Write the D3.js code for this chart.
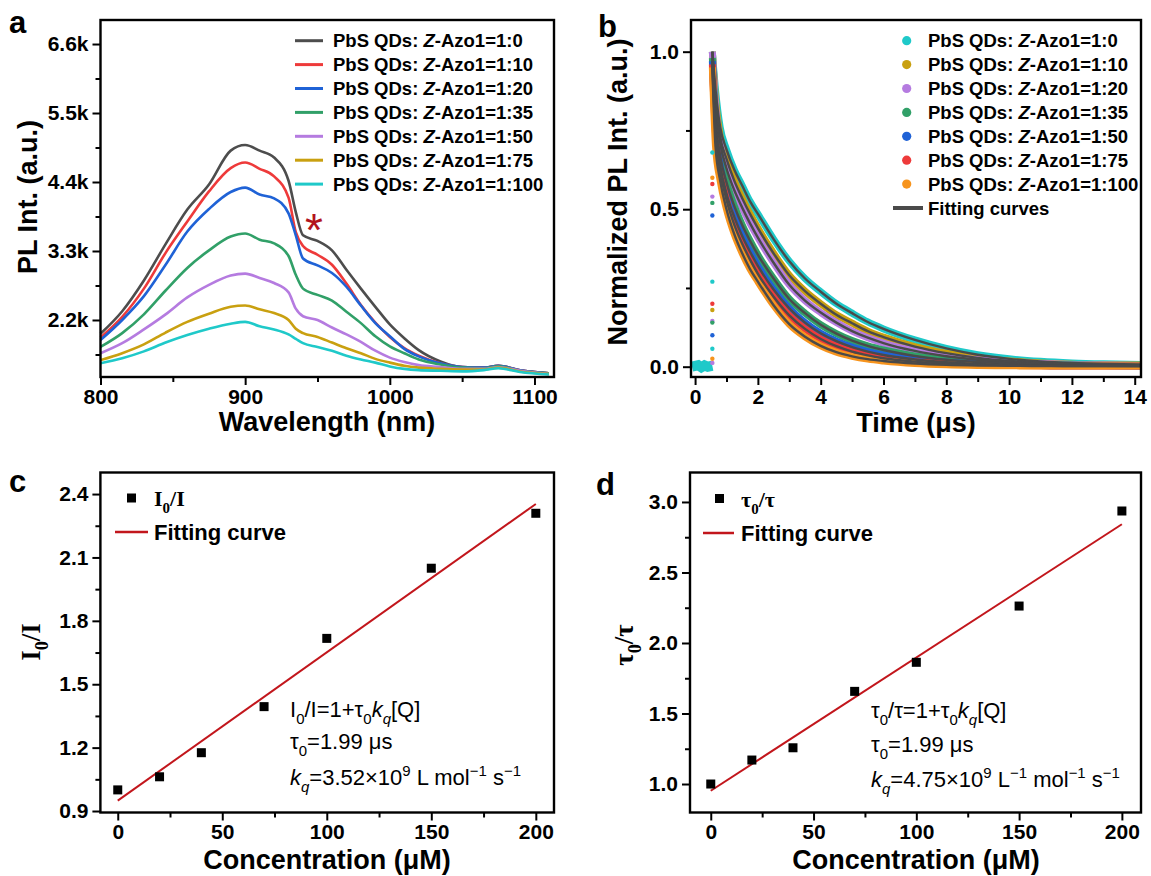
<!DOCTYPE html>
<html>
<head>
<meta charset="utf-8">
<script src="https://cdn.jsdelivr.net/npm/d3@7"></script>
<style>
  body { margin: 0; background: #fff; }
  svg { display: block; font-family: "Liberation Sans", Arial, Helvetica, sans-serif; }
  .tick text { font-family: "Liberation Sans", Arial, sans-serif; font-size: 21px; font-weight: bold; fill: #000; }
  .tick line { stroke: #000; stroke-width: 2; }
  .title { font-size: 27px; font-weight: bold; }
  .leg { font-size: 18.5px; font-weight: bold; }
  .leg2 { font-size: 22px; font-weight: bold; }
  .note { font-size: 22px; }
  .serif { font-family: "Liberation Serif", "Times New Roman", serif; font-weight: bold; }
  .plabel { font-size: 31px; font-weight: bold; }
</style>
</head>
<body>
<div id="chart"></div>
<script>
// ---- panel a: PL spectra (values in k counts) ----
var plLabels = ["1:0", "1:10", "1:20", "1:35", "1:50", "1:75", "1:100"];
var plColors = ["#4d4d4d", "#ee3a3a", "#1f62d6", "#31a068", "#b57be0", "#c9a010", "#1fc9c9"];
var plWave = [800, 815, 830, 845, 860, 875, 890, 900, 910, 920, 930, 935, 940, 950, 960, 970, 980, 990, 1000, 1010, 1020, 1035, 1050, 1065, 1075, 1090, 1110];
var pl_0   = [1.98, 2.34, 2.83, 3.41, 3.96, 4.36, 4.90, 4.99, 4.90, 4.79, 4.42, 3.92, 3.55, 3.46, 3.31, 3.00, 2.70, 2.41, 2.13, 1.91, 1.72, 1.54, 1.45, 1.44, 1.47, 1.40, 1.35];
var pl_10  = [1.92, 2.25, 2.70, 3.27, 3.77, 4.25, 4.62, 4.71, 4.61, 4.49, 4.15, 3.60, 3.38, 3.24, 3.08, 2.78, 2.44, 2.16, 1.93, 1.75, 1.63, 1.51, 1.45, 1.44, 1.47, 1.40, 1.35];
var pl_20  = [1.88, 2.20, 2.58, 3.08, 3.61, 3.97, 4.24, 4.31, 4.20, 4.14, 3.90, 3.55, 3.18, 3.07, 2.95, 2.73, 2.43, 2.15, 1.94, 1.74, 1.62, 1.51, 1.45, 1.44, 1.47, 1.40, 1.35];
var pl_35  = [1.77, 1.99, 2.29, 2.67, 3.03, 3.31, 3.53, 3.58, 3.48, 3.42, 3.22, 2.92, 2.70, 2.60, 2.51, 2.33, 2.15, 1.94, 1.78, 1.67, 1.57, 1.49, 1.44, 1.43, 1.46, 1.39, 1.35];
var pl_50  = [1.67, 1.83, 2.05, 2.29, 2.56, 2.76, 2.91, 2.94, 2.87, 2.79, 2.64, 2.38, 2.26, 2.20, 2.08, 1.97, 1.85, 1.71, 1.60, 1.53, 1.48, 1.45, 1.42, 1.42, 1.45, 1.39, 1.34];
var pl_75  = [1.56, 1.67, 1.81, 2.00, 2.17, 2.30, 2.41, 2.43, 2.37, 2.31, 2.20, 2.06, 1.99, 1.93, 1.84, 1.75, 1.67, 1.58, 1.52, 1.47, 1.44, 1.42, 1.41, 1.41, 1.44, 1.38, 1.34];
var pl_100 = [1.51, 1.59, 1.70, 1.84, 1.96, 2.06, 2.14, 2.17, 2.10, 2.05, 1.97, 1.90, 1.83, 1.77, 1.71, 1.63, 1.57, 1.52, 1.46, 1.42, 1.40, 1.39, 1.38, 1.40, 1.43, 1.37, 1.33];
var plSeries = [pl_0, pl_10, pl_20, pl_35, pl_50, pl_75, pl_100];

// ---- panel b: normalized decays ----
var decayLabels = ["1:0", "1:10", "1:20", "1:35", "1:50", "1:75", "1:100"];
var decayColors = ["#1fc9c9", "#c9a010", "#b57be0", "#31a068", "#1f62d6", "#ee3a3a", "#f7941d"];
var decayTime = [0.55, 0.65, 0.8, 1.0, 1.25, 1.5, 1.75, 2.0, 2.5, 3.0, 3.5, 4.0, 4.5, 5.0, 5.5, 6.0, 7.0, 8.0, 9.0, 10, 11, 12, 13, 14.2];
var decay_0   = [1.0, 0.88, 0.76, 0.69, 0.625, 0.575, 0.525, 0.485, 0.405, 0.335, 0.28, 0.238, 0.2, 0.17, 0.142, 0.12, 0.085, 0.058, 0.038, 0.025, 0.017, 0.012, 0.009, 0.007];
var decay_10  = [1.0, 0.85, 0.73, 0.66, 0.59, 0.535, 0.485, 0.44, 0.36, 0.29, 0.24, 0.2, 0.165, 0.138, 0.113, 0.094, 0.064, 0.043, 0.028, 0.018, 0.012, 0.008, 0.006, 0.005];
var decay_20  = [1.0, 0.83, 0.71, 0.63, 0.56, 0.505, 0.455, 0.41, 0.33, 0.26, 0.21, 0.172, 0.14, 0.113, 0.092, 0.075, 0.05, 0.033, 0.022, 0.014, 0.01, 0.007, 0.005, 0.004];
var decay_35  = [0.98, 0.79, 0.67, 0.585, 0.51, 0.45, 0.4, 0.355, 0.28, 0.215, 0.17, 0.133, 0.105, 0.083, 0.066, 0.053, 0.034, 0.022, 0.015, 0.01, 0.007, 0.005, 0.004, 0.003];
var decay_50  = [0.97, 0.76, 0.64, 0.55, 0.475, 0.415, 0.365, 0.32, 0.245, 0.185, 0.14, 0.106, 0.081, 0.062, 0.048, 0.037, 0.023, 0.014, 0.009, 0.006, 0.004, 0.003, 0.003, 0.002];
var decay_75  = [0.96, 0.74, 0.62, 0.53, 0.45, 0.39, 0.34, 0.295, 0.222, 0.163, 0.12, 0.088, 0.065, 0.048, 0.036, 0.027, 0.016, 0.01, 0.006, 0.004, 0.003, 0.002, 0.002, 0.002];
var decay_100 = [0.95, 0.7, 0.59, 0.5, 0.42, 0.36, 0.31, 0.27, 0.195, 0.135, 0.095, 0.066, 0.046, 0.033, 0.024, 0.018, 0.01, 0.006, 0.004, 0.003, 0.002, 0.002, 0.002, 0.002];
var decaySeries = [decay_0, decay_10, decay_20, decay_35, decay_50, decay_75, decay_100];
// baseline before the pulse and the sparse points on the rising edge
var baseTime = [-0.1, 0.1, 0.2, 0.3, 0.4, 0.55];
var baseValue = [0.0, 0.005, -0.002, 0.004, 0.0, 0.003];
var riseTime = 0.55;
var riseSeries = [0, 5, 1, 2, 3, 4, 0, 6, 2, 6, 5, 2, 3, 4, 0];
var riseValue = [0.27, 0.2, 0.18, 0.145, 0.14, 0.1, 0.057, 0.025, 0.012, 0.6, 0.58, 0.54, 0.52, 0.48, 0.68];

// ---- panels c, d: Stern-Volmer ----
var conc = [0, 20, 40, 70, 100, 150, 200];
var ratioI = [1.0, 1.062, 1.176, 1.394, 1.717, 2.049, 2.309];
var ratioTau = [1.0, 1.17, 1.257, 1.657, 1.863, 2.262, 2.936];
var fitConc = [0, 200];
var fitI = [0.949, 2.353];
var fitTau = [0.952, 2.842];

var svg = d3.select("#chart").append("svg")
  .attr("width", 1151)
  .attr("height", 876);

function axes(g, x, y, w, h, xMajor, xMinor, yMajor, yMinor, xFmt, yFmt) {
  g.append("g").attr("transform", "translate(0," + h + ")")
    .call(d3.axisBottom(x).tickValues(xMinor).tickSize(5).tickFormat(""))
    .call(a => a.select(".domain").remove());
  g.append("g").attr("transform", "translate(0," + h + ")")
    .call(d3.axisBottom(x).tickValues(xMajor).tickSize(8).tickPadding(4).tickFormat(xFmt))
    .call(a => a.select(".domain").remove());
  g.append("g")
    .call(d3.axisLeft(y).tickValues(yMinor).tickSize(5).tickFormat(""))
    .call(a => a.select(".domain").remove());
  g.append("g")
    .call(d3.axisLeft(y).tickValues(yMajor).tickSize(8).tickPadding(4).tickFormat(yFmt))
    .call(a => a.select(".domain").remove());
  g.selectAll("g").attr("font-size", null).attr("font-family", null);
  g.append("rect").attr("width", w).attr("height", h)
    .attr("fill", "none").attr("stroke", "#000").attr("stroke-width", 2.4);
}

// text with sub/superscripts: parts = [[string, style]]
function rich(t, parts, fs) {
  var off = 0;
  parts.forEach(function(p) {
    var st = p[1] || "";
    var target = st.indexOf("sub") >= 0 ? fs * 0.3 : (st.indexOf("sup") >= 0 ? -fs * 0.42 : 0);
    var ts = t.append("tspan").attr("dy", target - off).text(p[0]);
    off = target;
    if (target != 0) ts.attr("font-size", fs * 0.68);
    if (st.indexOf("it") >= 0) ts.attr("font-style", "italic");
  });
  return t;
}

function legendName(t, label) {
  t.append("tspan").text("PbS QDs: ");
  t.append("tspan").attr("font-style", "italic").text("Z");
  t.append("tspan").text("-Azo1=" + label);
}

// ================= panel a =================
var aL = 100.5, aT = 20, aW = 453.5, aH = 357;
var ga = svg.append("g").attr("transform", "translate(" + aL + "," + aT + ")");
var xa = d3.scaleLinear().domain([800, 1113.5]).range([0, aW]);
var ya = d3.scaleLinear().domain([1.291, 6.983]).range([aH, 0]);

ga.append("g")
  .selectAll("path").data(plSeries).join("path")
  .attr("fill", "none")
  .attr("stroke", (d, i) => plColors[i])
  .attr("stroke-width", 2.6)
  .attr("d", d => d3.line().curve(d3.curveMonotoneX)
    .x((v, j) => xa(plWave[j])).y(v => ya(v))(d));

axes(ga, xa, ya, aW, aH, [800, 900, 1000, 1100], [850, 950, 1050],
  [2.2, 3.3, 4.4, 5.5, 6.6], [1.65, 2.75, 3.85, 4.95, 6.05],
  d => d, d => d.toFixed(1) + "k");

plLabels.forEach(function(lab, i) {
  var cy = 40.7 + i * 23.9;
  svg.append("line").attr("x1", 295).attr("x2", 323).attr("y1", cy).attr("y2", cy)
    .attr("stroke", plColors[i]).attr("stroke-width", 3);
  legendName(svg.append("text").attr("class", "leg").attr("x", 333).attr("y", cy + 6.5), lab);
});

svg.append("text").attr("x", 314).attr("y", 246).attr("text-anchor", "middle")
  .attr("font-size", 46).attr("fill", "#b3141c").text("*");

svg.append("text").attr("class", "title").attr("text-anchor", "middle")
  .attr("transform", "translate(37,197) rotate(-90)").text("PL Int. (a.u.)");
svg.append("text").attr("class", "title").attr("text-anchor", "middle")
  .attr("x", 327).attr("y", 431).text("Wavelength (nm)");
svg.append("text").attr("class", "plabel").attr("x", 9).attr("y", 33).text("a");

// ================= panel b =================
var bL = 691, bT = 20, bW = 450, bH = 357;
var gb = svg.append("g").attr("transform", "translate(" + bL + "," + bT + ")");
var xb = d3.scaleLinear().domain([-0.13, 14.2]).range([0, bW]);
var yb = d3.scaleLinear().domain([-0.0327, 1.1006]).range([bH, 0]);
var decayLine = d3.line().curve(d3.curveMonotoneX)
  .x((v, j) => xb(decayTime[j])).y(v => yb(v));

gb.append("path")
  .attr("fill", "none").attr("stroke", decayColors[0]).attr("stroke-width", 10)
  .attr("d", d3.line().x((v, j) => xb(baseTime[j])).y(v => yb(v))(baseValue));

gb.append("g").selectAll("path").data(decaySeries).join("path")
  .attr("fill", "none")
  .attr("stroke", (d, i) => decayColors[i])
  .attr("stroke-width", 7)
  .attr("d", d => decayLine(d));

gb.append("g").selectAll("circle").data(riseValue).join("circle")
  .attr("cx", xb(riseTime))
  .attr("cy", d => yb(d))
  .attr("r", 2.2)
  .attr("fill", (d, i) => decayColors[riseSeries[i]]);

gb.append("g").selectAll("path").data(decaySeries).join("path")
  .attr("fill", "none")
  .attr("stroke", "#4a4a4a")
  .attr("stroke-width", 2.4)
  .attr("d", d => decayLine(d));

axes(gb, xb, yb, bW, bH, [0, 2, 4, 6, 8, 10, 12, 14], [1, 3, 5, 7, 9, 11, 13],
  [0, 0.5, 1.0], [0.25, 0.75],
  d => d, d => d.toFixed(1));

decayLabels.forEach(function(lab, i) {
  var cy = 40.7 + i * 23.9;
  svg.append("circle").attr("cx", 906.7).attr("cy", cy).attr("r", 4.6).attr("fill", decayColors[i]);
  legendName(svg.append("text").attr("class", "leg").attr("x", 928).attr("y", cy + 6.5), lab);
});
svg.append("line").attr("x1", 893).attr("x2", 923).attr("y1", 208).attr("y2", 208)
  .attr("stroke", "#4a4a4a").attr("stroke-width", 4);
svg.append("text").attr("class", "leg").attr("x", 928).attr("y", 214.5).text("Fitting curves");

svg.append("text").attr("class", "title").attr("text-anchor", "middle")
  .attr("transform", "translate(627,192) rotate(-90)").text("Normalized PL Int. (a.u.)");
svg.append("text").attr("class", "title").attr("text-anchor", "middle")
  .attr("x", 916).attr("y", 432).text("Time (\u03bcs)");
svg.append("text").attr("class", "plabel").attr("x", 598).attr("y", 37).text("b");

// ================= panel c =================
var cL = 100.4, cT = 472.5, cW = 453.6, cH = 340;
var gc = svg.append("g").attr("transform", "translate(" + cL + "," + cT + ")");
var xc = d3.scaleLinear().domain([-8.3, 208.7]).range([0, cW]);
var yc = d3.scaleLinear().domain([0.893, 2.502]).range([cH, 0]);
gc.append("path")
  .attr("fill", "none").attr("stroke", "#c2161c").attr("stroke-width", 2)
  .attr("d", d3.line().x((v, j) => xc(fitConc[j])).y(v => yc(v))(fitI));
gc.append("g").selectAll("rect").data(ratioI).join("rect")
  .attr("x", (d, i) => xc(conc[i]) - 4.5).attr("y", d => yc(d) - 4.5)
  .attr("width", 9).attr("height", 9).attr("fill", "#000");
axes(gc, xc, yc, cW, cH, [0, 50, 100, 150, 200], [25, 75, 125, 175],
  [0.9, 1.2, 1.5, 1.8, 2.1, 2.4], [1.05, 1.35, 1.65, 1.95, 2.25],
  d => d, d => d.toFixed(1));

svg.append("rect").attr("x", 127).attr("y", 493.5).attr("width", 9).attr("height", 9).attr("fill", "#000");
rich(svg.append("text").attr("class", "leg2 serif").attr("x", 154).attr("y", 506),
  [["I"], ["0", "sub"], ["/I"]], 22);
svg.append("line").attr("x1", 115).attr("x2", 148).attr("y1", 532).attr("y2", 532)
  .attr("stroke", "#c2161c").attr("stroke-width", 2.5);
svg.append("text").attr("class", "leg2").attr("x", 154).attr("y", 540).text("Fitting curve");

rich(svg.append("text").attr("class", "note").attr("x", 290).attr("y", 717),
  [["I"], ["0", "sub"], ["/I=1+\u03c4"], ["0", "sub"], ["k", "it"], ["q", "itsub"], ["[Q]"]], 22);
rich(svg.append("text").attr("class", "note").attr("x", 290).attr("y", 749),
  [["\u03c4"], ["0", "sub"], ["=1.99 \u03bcs"]], 22);
rich(svg.append("text").attr("class", "note").attr("x", 290).attr("y", 785),
  [["k", "it"], ["q", "itsub"], ["=3.52\u00d710"], ["9", "sup"], [" L mol"], ["\u22121", "sup"], [" s"], ["\u22121", "sup"]], 22);

rich(svg.append("text").attr("class", "title serif").attr("text-anchor", "middle")
  .attr("transform", "translate(40,642) rotate(-90)"), [["I"], ["0", "sub"], ["/I"]], 27);
svg.append("text").attr("class", "title").attr("text-anchor", "middle")
  .attr("x", 327).attr("y", 869).text("Concentration (\u03bcM)");
svg.append("text").attr("class", "plabel").attr("x", 9).attr("y", 492).text("c");

// ================= panel d =================
var dL = 690, dT = 472.5, dW = 451, dH = 340;
var gd = svg.append("g").attr("transform", "translate(" + dL + "," + dT + ")");
var xd = d3.scaleLinear().domain([-10.1, 209.3]).range([0, dW]);
var yd = d3.scaleLinear().domain([0.798, 3.209]).range([dH, 0]);
gd.append("path")
  .attr("fill", "none").attr("stroke", "#c2161c").attr("stroke-width", 2)
  .attr("d", d3.line().x((v, j) => xd(fitConc[j])).y(v => yd(v))(fitTau));
gd.append("g").selectAll("rect").data(ratioTau).join("rect")
  .attr("x", (d, i) => xd(conc[i]) - 4.5).attr("y", d => yd(d) - 4.5)
  .attr("width", 9).attr("height", 9).attr("fill", "#000");
axes(gd, xd, yd, dW, dH, [0, 50, 100, 150, 200], [25, 75, 125, 175],
  [1.0, 1.5, 2.0, 2.5, 3.0], [1.25, 1.75, 2.25, 2.75],
  d => d, d => d.toFixed(1));

svg.append("rect").attr("x", 715).attr("y", 494).attr("width", 9).attr("height", 9).attr("fill", "#000");
rich(svg.append("text").attr("class", "leg2 serif").attr("x", 741).attr("y", 507),
  [["\u03c4"], ["0", "sub"], ["/\u03c4"]], 22);
svg.append("line").attr("x1", 703).attr("x2", 734).attr("y1", 533).attr("y2", 533)
  .attr("stroke", "#c2161c").attr("stroke-width", 2.5);
svg.append("text").attr("class", "leg2").attr("x", 741).attr("y", 541).text("Fitting curve");

rich(svg.append("text").attr("class", "note").attr("x", 871).attr("y", 718),
  [["\u03c4"], ["0", "sub"], ["/\u03c4=1+\u03c4"], ["0", "sub"], ["k", "it"], ["q", "itsub"], ["[Q]"]], 22);
rich(svg.append("text").attr("class", "note").attr("x", 871).attr("y", 752),
  [["\u03c4"], ["0", "sub"], ["=1.99 \u03bcs"]], 22);
rich(svg.append("text").attr("class", "note").attr("x", 871).attr("y", 787),
  [["k", "it"], ["q", "itsub"], ["=4.75\u00d710"], ["9", "sup"], [" L"], ["\u22121", "sup"], [" mol"], ["\u22121", "sup"], [" s"], ["\u22121", "sup"]], 22);

rich(svg.append("text").attr("class", "title serif").attr("text-anchor", "middle")
  .attr("transform", "translate(633,645) rotate(-90)"), [["\u03c4"], ["0", "sub"], ["/\u03c4"]], 27);
svg.append("text").attr("class", "title").attr("text-anchor", "middle")
  .attr("x", 916).attr("y", 869).text("Concentration (\u03bcM)");
svg.append("text").attr("class", "plabel").attr("x", 596).attr("y", 495).text("d");
</script>
</body>
</html>
